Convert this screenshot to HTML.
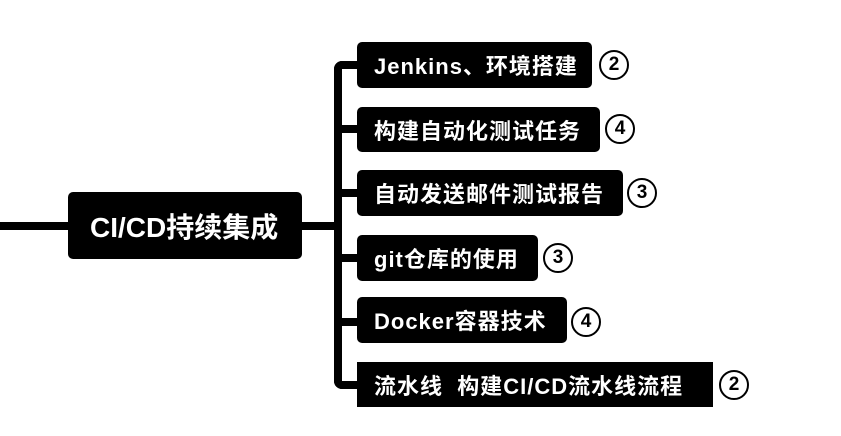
<!DOCTYPE html>
<html><head><meta charset="utf-8"><style>
body{margin:0;width:841px;height:436px;background:#fff;position:relative;overflow:hidden;font-family:"Liberation Sans","Noto Sans CJK SC",sans-serif;}
.b{position:absolute;background:#000;color:#fff;font-weight:bold;display:flex;align-items:center;padding-left:17px;box-sizing:border-box;border-radius:5px;font-size:22px;letter-spacing:1px;white-space:nowrap}
.c{position:absolute;width:30px;height:30px;border:2px solid #000;border-radius:50%;box-sizing:border-box;display:flex;align-items:center;justify-content:center;font-weight:bold;font-size:19px;font-family:"Liberation Sans",sans-serif}
.l{position:absolute;background:#000}
</style></head><body>
<div class="l" style="left:0;top:222px;width:70px;height:8px"></div>
<div class="l" style="left:300px;top:222px;width:40px;height:8px"></div>
<div class="l" style="left:334px;top:61px;width:8px;height:328px;border-radius:8px 0 0 8px"></div>
<div class="l" style="left:334px;top:61px;width:25px;height:8px;border-radius:8px 0 0 0"></div>
<div class="l" style="left:338px;top:125px;width:21px;height:8px"></div>
<div class="l" style="left:338px;top:189px;width:21px;height:8px"></div>
<div class="l" style="left:338px;top:254px;width:21px;height:8px"></div>
<div class="l" style="left:338px;top:318px;width:21px;height:8px"></div>
<div class="l" style="left:334px;top:381px;width:25px;height:8px;border-radius:0 0 0 8px"></div>
<div class="b" style="left:68px;top:192px;width:234px;height:67px;font-size:28px;letter-spacing:0;padding-left:22px">CI/CD持续集成</div>
<div class="b" style="left:357px;top:42px;width:235px;height:46px">Jenkins、环境搭建</div>
<div class="b" style="left:357px;top:107px;width:243px;height:45px">构建自动化测试任务</div>
<div class="b" style="left:357px;top:170px;width:266px;height:46px">自动发送邮件测试报告</div>
<div class="b" style="left:357px;top:235px;width:181px;height:46px">git仓库的使用</div>
<div class="b" style="left:357px;top:297px;width:210px;height:46px">Docker容器技术</div>
<div class="b" style="left:357px;top:362px;width:356px;height:45px;border-radius:0">流水线&nbsp;&nbsp;构建CI/CD流水线流程</div>
<div class="c" style="left:599px;top:50px">2</div>
<div class="c" style="left:605px;top:114px">4</div>
<div class="c" style="left:627px;top:178px">3</div>
<div class="c" style="left:543px;top:243px">3</div>
<div class="c" style="left:571px;top:307px">4</div>
<div class="c" style="left:719px;top:370px">2</div>
</body></html>
